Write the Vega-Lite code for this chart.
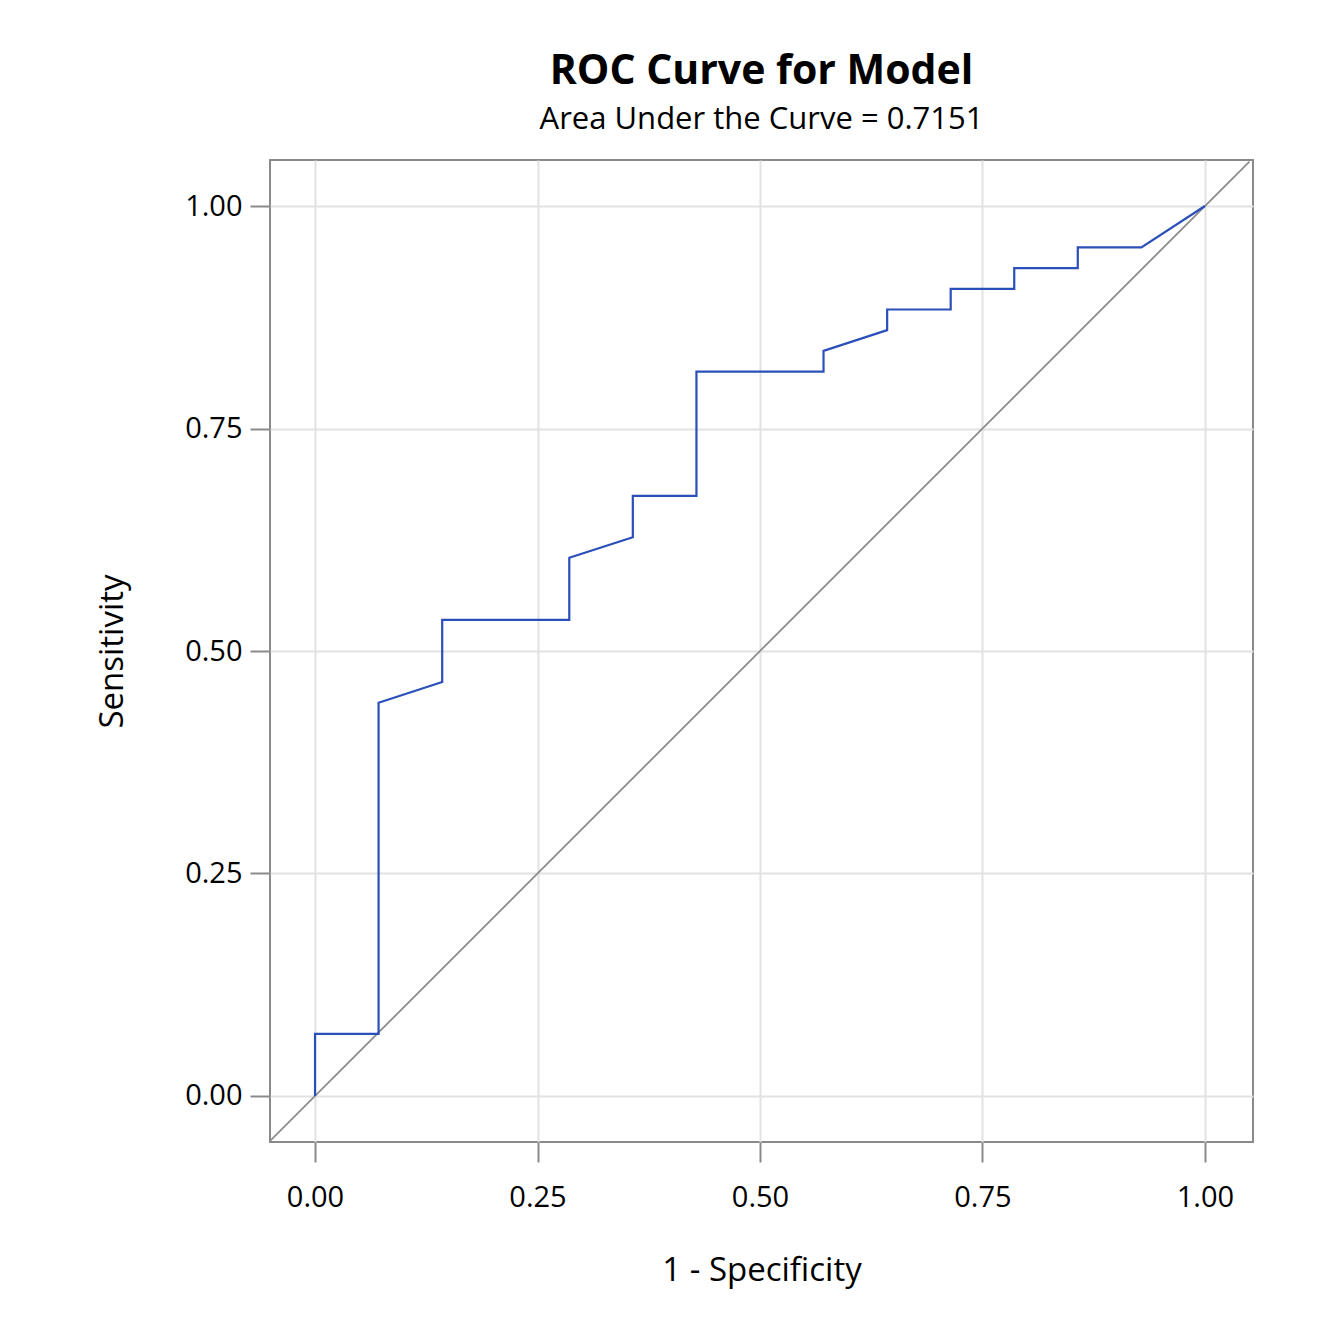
{
  "$schema": "https://vega.github.io/schema/vega-lite/v6.json",
  "autosize": "none",
  "width": 983,
  "height": 982,
  "padding": {"left": 270, "top": 160, "right": 77, "bottom": 179},
  "background": "white",
  "title": {
    "text": "ROC Curve for Model",
    "subtitle": "Area Under the Curve = 0.7151",
    "font": "Open Sans",
    "fontSize": 41,
    "fontWeight": "bold",
    "subtitleFont": "Open Sans",
    "subtitleFontSize": 31,
    "subtitleColor": "black",
    "subtitlePadding": 12,
    "color": "black",
    "anchor": "middle",
    "offset": 24
  },
  "config": {
    "view": {"stroke": "#8a8a8a", "strokeWidth": 2},
    "axis": {
      "labelFont": "Open Sans",
      "labelFontSize": 29,
      "labelColor": "black",
      "titleFont": "Open Sans",
      "titleFontSize": 33,
      "titleFontWeight": "normal",
      "titleColor": "black",
      "gridColor": "#e2e2e2",
      "gridWidth": 2,
      "tickColor": "#8a8a8a",
      "tickWidth": 2,
      "tickSize": 20,
      "domain": false
    }
  },
  "datasets": {
    "roc": [
      {"i": 0, "fpr": 0, "tpr": 0},
      {"i": 1, "fpr": 0, "tpr": 0.0698},
      {"i": 2, "fpr": 0.0714, "tpr": 0.0698},
      {"i": 3, "fpr": 0.0714, "tpr": 0.4419},
      {"i": 4, "fpr": 0.1429, "tpr": 0.4651},
      {"i": 5, "fpr": 0.1429, "tpr": 0.5349},
      {"i": 6, "fpr": 0.2857, "tpr": 0.5349},
      {"i": 7, "fpr": 0.2857, "tpr": 0.6047},
      {"i": 8, "fpr": 0.3571, "tpr": 0.6279},
      {"i": 9, "fpr": 0.3571, "tpr": 0.6744},
      {"i": 10, "fpr": 0.4286, "tpr": 0.6744},
      {"i": 11, "fpr": 0.4286, "tpr": 0.814},
      {"i": 12, "fpr": 0.5714, "tpr": 0.814},
      {"i": 13, "fpr": 0.5714, "tpr": 0.8372},
      {"i": 14, "fpr": 0.6429, "tpr": 0.8605},
      {"i": 15, "fpr": 0.6429, "tpr": 0.8837},
      {"i": 16, "fpr": 0.7143, "tpr": 0.8837},
      {"i": 17, "fpr": 0.7143, "tpr": 0.907},
      {"i": 18, "fpr": 0.7857, "tpr": 0.907},
      {"i": 19, "fpr": 0.7857, "tpr": 0.9302},
      {"i": 20, "fpr": 0.8571, "tpr": 0.9302},
      {"i": 21, "fpr": 0.8571, "tpr": 0.9535},
      {"i": 22, "fpr": 0.9286, "tpr": 0.9535},
      {"i": 23, "fpr": 1, "tpr": 1}
    ],
    "diag": [
      {"i": 0, "fpr": -0.05, "tpr": -0.05},
      {"i": 1, "fpr": 1.05, "tpr": 1.05}
    ]
  },
  "layer": [
    {
      "data": {"name": "diag"},
      "mark": {"type": "line", "color": "#8c8c8c", "strokeWidth": 1.8, "clip": true},
      "encoding": {
        "x": {
          "field": "fpr", "type": "quantitative",
          "scale": {"domain": [-0.0506, 1.054], "nice": false, "zero": false},
          "axis": {"values": [0, 0.25, 0.5, 0.75, 1], "format": ".2f", "title": "1 - Specificity", "labelPadding": 21, "titlePadding": 42}
        },
        "y": {
          "field": "tpr", "type": "quantitative",
          "scale": {"domain": [-0.0517, 1.0517], "nice": false, "zero": false},
          "axis": {"values": [0, 0.25, 0.5, 0.75, 1], "format": ".2f", "title": "Sensitivity", "labelPadding": 8, "titlePadding": 55}
        },
        "order": {"field": "i"}
      }
    },
    {
      "data": {"name": "roc"},
      "mark": {"type": "line", "color": "#2a4fb8", "strokeWidth": 2.2, "clip": true},
      "encoding": {
        "x": {"field": "fpr", "type": "quantitative"},
        "y": {"field": "tpr", "type": "quantitative"},
        "order": {"field": "i"}
      }
    }
  ]
}
